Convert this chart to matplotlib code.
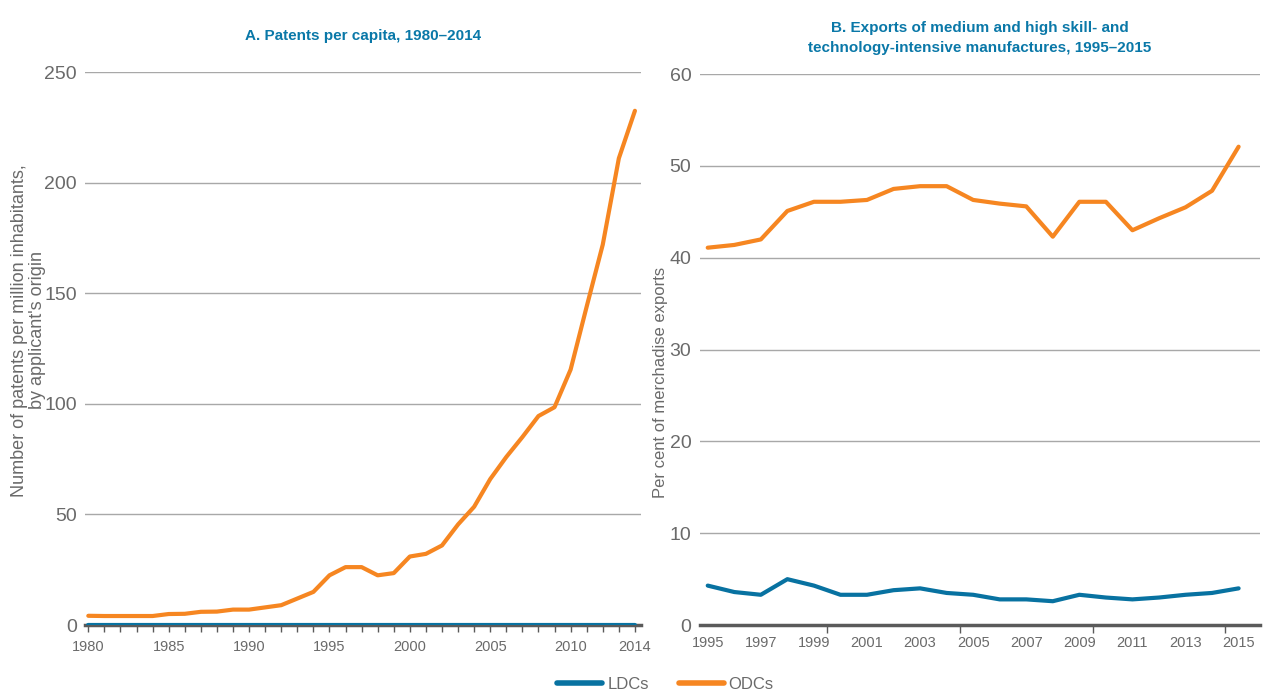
import matplotlib
matplotlib.use('Agg')
import matplotlib.pyplot as plt
from matplotlib.lines import Line2D
from matplotlib.ticker import FixedLocator

# 字体
plt.rcParams['font.family'] = ['Liberation Sans', 'DejaVu Sans']

# 数据 A：每百万人专利数
years_a = list(range(1980, 2015))
odc_patents = [4.2, 4.1, 4.1, 4.1, 4.1, 5.0, 5.1, 6.0, 6.1, 7.0, 7.0, 8.0, 9.0, 12.0, 15.0,
               22.5, 26.2, 26.2, 22.5, 23.5, 31.0, 32.2, 36.0, 45.5, 53.5, 66.0, 76.0, 85.0,
               94.5, 98.5, 115.5, 144.0, 172.0, 211.0, 232.5]
ldc_patents = [0.2] * len(years_a)
ticks_a = [1980, 1985, 1990, 1995, 2000, 2005, 2010, 2014]

# 数据 B：中高技术制成品出口占比
years_b = list(range(1995, 2016))
odc_exports = [41.1, 41.4, 42.0, 45.1, 46.1, 46.1, 46.3, 47.5, 47.8, 47.8, 46.3,
               45.9, 45.6, 42.3, 46.1, 46.1, 43.0, 44.3, 45.5, 47.3, 52.1]
ldc_exports = [4.3, 3.6, 3.3, 5.0, 4.3, 3.3, 3.3, 3.8, 4.0, 3.5, 3.3,
               2.8, 2.8, 2.6, 3.3, 3.0, 2.8, 3.0, 3.3, 3.5, 4.0]
ticks_b = list(range(1995, 2016, 2))

blue = '#0872a1'
orange = '#f68621'
title_color = '#0a78a8'
text_gray = '#6a6a6a'
grid_gray = '#a8a8a8'
axis_gray = '#5a5a5a'

fig = plt.figure(figsize=(12.7, 6.93), dpi=100)
ax1 = fig.add_axes([0.067, 0.098, 0.438, 0.798])
ax2 = fig.add_axes([0.551, 0.098, 0.441, 0.795])


def style_axes(ax):
    for s in ['top', 'right', 'left']:
        ax.spines[s].set_visible(False)
    ax.spines['bottom'].set_color(axis_gray)
    ax.spines['bottom'].set_linewidth(2.5)
    ax.spines['bottom'].set_zorder(1)
    ax.yaxis.grid(True, color=grid_gray, linewidth=1)
    ax.set_axisbelow(True)
    ax.tick_params(axis='y', length=0, labelsize=14, labelcolor=text_gray, pad=6)
    ax.tick_params(axis='x', which='both', labelsize=10.5, labelcolor=text_gray, color=axis_gray)


# 图 A
ax1.plot(years_a, odc_patents, color=orange, linewidth=3, solid_capstyle='round', zorder=3)
ax1.plot(years_a, ldc_patents, color=blue, linewidth=3, solid_capstyle='round', zorder=3)
ax1.set_xlim(1979.8, 2014.4)
ax1.set_ylim(0, 250)
ax1.set_yticks([0, 50, 100, 150, 200, 250])
ax1.set_xticks(ticks_a)
ax1.xaxis.set_minor_locator(FixedLocator(years_a))
style_axes(ax1)
ax1.tick_params(axis='x', which='major', length=5, width=1, pad=6)
ax1.tick_params(axis='x', which='minor', length=5, width=1)
ax1.set_ylabel("Number of patents per million inhabitants,\nby applicant's origin",
               fontsize=13, color=text_gray, linespacing=1.1)
ax1.yaxis.set_label_coords(-0.07, 0.533)
ax1.set_title('A. Patents per capita, 1980–2014', fontsize=11, fontweight='bold',
              color=title_color, pad=23)

# 图 B
ax2.plot(years_b, odc_exports, color=orange, linewidth=3, solid_capstyle='round', zorder=3)
ax2.plot(years_b, ldc_exports, color=blue, linewidth=3, solid_capstyle='round', zorder=3)
ax2.set_xlim(1994.7, 2015.8)
ax2.set_ylim(0, 60)
ax2.set_yticks(range(0, 61, 10))
ax2.set_xticks(ticks_b)
ax2.xaxis.set_minor_locator(FixedLocator([1999.5, 2004.5, 2009.5, 2014.5]))
style_axes(ax2)
ax2.tick_params(axis='x', which='major', length=0, pad=8)
ax2.tick_params(axis='x', which='minor', length=6, width=1)
ax2.set_ylabel('Per cent of merchadise exports', fontsize=12, color=text_gray)
ax2.yaxis.set_label_coords(-0.056, 0.44)
ax2.set_title('B. Exports of medium and high skill- and\ntechnology-intensive manufactures, 1995–2015',
              fontsize=11, fontweight='bold', color=title_color, pad=16, linespacing=1.5)

# 图例
handles = [Line2D([], [], color=blue, linewidth=4, solid_capstyle='round'),
           Line2D([], [], color=orange, linewidth=4, solid_capstyle='round')]
fig.legend(handles, ['LDCs', 'ODCs'], loc='lower center', bbox_to_anchor=(0.524, -0.02),
           ncol=2, frameon=False, fontsize=12, labelcolor=text_gray, handlelength=2.7,
           handletextpad=0.3, columnspacing=1.8)

plt.savefig('out.png', dpi=100)
